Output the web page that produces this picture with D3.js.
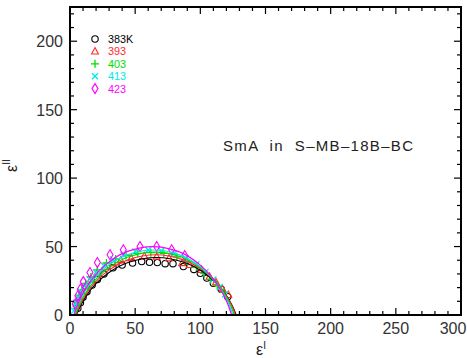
<!DOCTYPE html>
<html>
<head>
<meta charset="utf-8">
<script src="https://cdn.jsdelivr.net/npm/d3@7"></script>
<style>
  body { margin: 0; background: #fff; }
  text { font-family: "Liberation Sans", Arial, sans-serif; }
</style>
</head>
<body>
<div id="chart"></div>
<script>
// series names / colours / symbols
const temps = ["383K", "393", "403", "413", "423"];
const colors = ["#000000", "#ff2a2a", "#00dd00", "#00e8e8", "#ff00ff"];
const symbols = ["circle", "triangle", "plus", "cross", "diamond"];

// measured points [eps', eps'']
const pts383 = [[6,5],[8,9],[10,13],[13,17],[17,22],[21,26],[26,30],[33,34.5],[40,36.5],[48,38],[55,39],[61,38.5],[67,38.3],[73,37.5],[79,37.5],[87,35.4],[95,33.3],[100,30.5],[105,27],[110,23.2],[116,18.8],[121,13.4]];
const pts393 = [[5,8],[7,13],[9,17],[12,21],[16,26],[21,31],[27,35],[33,38],[39,40],[47,41.5],[57,43],[66.5,42.7],[76,41.5],[86,38],[92,36.6],[101,33],[107,28],[112,24],[117,19],[121.5,14.7]];
const pts403 = [[5,9],[7,14],[9,18],[12,23],[16,28],[21,33],[28,38],[35,41],[43,43.5],[52,45],[62,45.5],[72,45],[82,42.5],[90,39],[97,35],[103,30.5],[108,26],[113,21.5],[118,16.5]];
const pts413 = [[3,3],[4,6],[5,9],[6.5,13],[8.5,17],[11,21],[15,26],[20,31],[26,36],[33,40.5],[41,44],[50,46.5],[60,47.5],[70,47],[80,45],[89,41.5],[97,37],[104,31.5],[110,26],[115,20.5],[119,15]];
const pts423 = [[4,8],[6,14],[8,19],[10.2,24.4],[15.3,31],[21,38.3],[30.7,44],[40.9,47.6],[53.7,50],[66.5,50],[78,47.6],[88,43.5]];

// fitted arcs
const fit383 = [[5,0],[6,2.4],[8,6.6],[12,13.3],[19.9,22.9],[30,31.1],[45.1,38.5],[66.25,42],[87.4,38.5],[102.5,31.1],[112.6,22.9],[120.5,13.3],[124.6,6.6],[126.5,2.4],[127.5,0]];
const fit393 = [[4.5,0],[5.5,2.6],[7.5,7],[11.5,13.9],[19.4,24],[29.5,32.6],[44.6,40.3],[65.75,44],[86.9,40.3],[102,32.6],[112.1,24],[120,13.9],[124.1,7],[126,2.6],[127,0]];
const fit403 = [[4,0],[5,2.7],[7,7.3],[11,14.6],[18.9,25.1],[28.9,34],[43.9,42.2],[65,46],[86.1,42.2],[101.1,34],[111.1,25.1],[119,14.6],[123.1,7.3],[125,2.7],[126,0]];
const fit413 = [[3,0],[4,2.8],[6,7.5],[10,15.1],[17.9,25.9],[27.9,35.2],[42.9,43.6],[64,47.5],[85.1,43.6],[100.1,35.2],[110.1,25.9],[118,15.1],[122.1,7.5],[124,2.8],[125,0]];
const fit423 = [[3,0],[4,2.9],[6,7.9],[9.9,15.9],[17.8,27.3],[27.7,37],[42.6,45.9],[63.5,50],[84.4,45.9],[99.3,37],[109.2,27.3],[117.1,15.9],[121.1,7.9],[123,2.9],[124,0]];

const points = [pts383, pts393, pts403, pts413, pts423];
const fits = [fit383, fit393, fit403, fit413, fit423];

const xTicks = [0, 50, 100, 150, 200, 250, 300];
const yTicks = [0, 50, 100, 150, 200];

const w = 467, h = 358;
const m = {left: 70, top: 7, right: 6, bottom: 43};

const x = d3.scaleLinear().domain([0, 300]).range([m.left, w - m.right]);
const y = d3.scaleLinear().domain([0, 225]).range([h - m.bottom, m.top]);

const svg = d3.select("#chart").append("svg")
  .attr("width", w).attr("height", h);

svg.append("clipPath").attr("id", "clip")
  .append("rect")
  .attr("x", m.left).attr("y", m.top)
  .attr("width", w - m.left - m.right).attr("height", h - m.top - m.bottom);

// fitted lines
const line = d3.line().x(d => x(d[0])).y(d => y(d[1])).curve(d3.curveCatmullRom);
const plot = svg.append("g").attr("clip-path", "url(#clip)");

function drawSymbol(g, type, color, cx, cy) {
  if (type === "circle") {
    g.append("circle").attr("cx", cx).attr("cy", cy).attr("r", 3.2)
      .attr("fill", "none").attr("stroke", color).attr("stroke-width", 1.1);
  } else if (type === "triangle") {
    g.append("path").attr("d", `M${cx},${cy-3.8}L${cx+3.4},${cy+2.6}L${cx-3.4},${cy+2.6}Z`)
      .attr("fill", "none").attr("stroke", color).attr("stroke-width", 1.1);
  } else if (type === "plus") {
    g.append("path").attr("d", `M${cx-4},${cy}H${cx+4}M${cx},${cy-4}V${cy+4}`)
      .attr("stroke", color).attr("stroke-width", 1.3);
  } else if (type === "cross") {
    g.append("path").attr("d", `M${cx-3},${cy-3}L${cx+3},${cy+3}M${cx-3},${cy+3}L${cx+3},${cy-3}`)
      .attr("stroke", color).attr("stroke-width", 1.3);
  } else {
    g.append("path").attr("d", `M${cx},${cy-5}L${cx+3},${cy}L${cx},${cy+5}L${cx-3},${cy}Z`)
      .attr("fill", "none").attr("stroke", color).attr("stroke-width", 1.1);
  }
}

points.forEach((pts, i) => {
  const g = plot.append("g");
  pts.forEach(p => drawSymbol(g, symbols[i], colors[i], x(p[0]), y(p[1])));
});

fits.forEach((f, i) => {
  plot.append("path").datum(f)
    .attr("d", line)
    .attr("fill", "none")
    .attr("stroke", colors[i])
    .attr("stroke-width", 1.2);
});

// axes with inward ticks on all four sides
const xMinor = d3.range(0, 301, 10);
const yMinor = d3.range(0, 226, 10);

function tickLen(v, major) { return v % major === 0 ? 7 : 4; }

const axes = svg.append("g").attr("stroke", "#000").attr("stroke-width", 1.2);
xMinor.forEach(v => {
  const L = tickLen(v, 50);
  axes.append("line").attr("x1", x(v)).attr("x2", x(v)).attr("y1", y(0)).attr("y2", y(0) - L);
  axes.append("line").attr("x1", x(v)).attr("x2", x(v)).attr("y1", y(225)).attr("y2", y(225) + L);
});
yMinor.forEach(v => {
  const L = tickLen(v, 50);
  axes.append("line").attr("y1", y(v)).attr("y2", y(v)).attr("x1", x(0)).attr("x2", x(0) + L);
  axes.append("line").attr("y1", y(v)).attr("y2", y(v)).attr("x1", x(300)).attr("x2", x(300) - L);
});

svg.append("rect")
  .attr("x", m.left).attr("y", m.top)
  .attr("width", w - m.left - m.right).attr("height", h - m.top - m.bottom)
  .attr("fill", "none").attr("stroke", "#000").attr("stroke-width", 2);

// tick labels
svg.append("g").selectAll("text").data(xTicks).enter().append("text")
  .attr("x", d => d === 300 ? x(d) - 8 : x(d))
  .attr("y", y(0) + 19)
  .attr("text-anchor", "middle")
  .attr("font-size", 16).attr("fill", "#333")
  .text(d => d);

svg.append("g").selectAll("text").data(yTicks).enter().append("text")
  .attr("x", m.left - 7)
  .attr("y", d => y(d) + 6)
  .attr("text-anchor", "end")
  .attr("font-size", 16).attr("fill", "#333")
  .text(d => d);

// axis titles
const xt = svg.append("text").attr("x", 256).attr("y", 355).attr("font-size", 16).attr("fill", "#222");
xt.append("tspan").text("ε");
xt.append("tspan").attr("font-size", 10).attr("dy", -6).text("I");

const yt = svg.append("text").attr("transform", "translate(17,172) rotate(-90)").attr("font-size", 16).attr("fill", "#222");
yt.append("tspan").text("ε");
yt.append("tspan").attr("font-size", 10).attr("dy", -7).text("II");

// legend
temps.forEach((t, i) => {
  const ly = 39 + i * 12.4;
  drawSymbol(svg, symbols[i], colors[i], 95, ly);
  svg.append("text").attr("x", 108).attr("y", ly + 4)
    .attr("font-size", 10.8).attr("fill", colors[i]).text(t);
});

// annotation
svg.append("text").attr("x", 223).attr("y", 151)
  .attr("font-size", 15).attr("fill", "#222")
  .attr("textLength", 190).attr("lengthAdjust", "spacing")
  .attr("xml:space", "preserve")
  .style("white-space", "pre")
  .text("SmA  in  S\u2013MB\u201318B\u2013BC");
</script>
</body>
</html>
